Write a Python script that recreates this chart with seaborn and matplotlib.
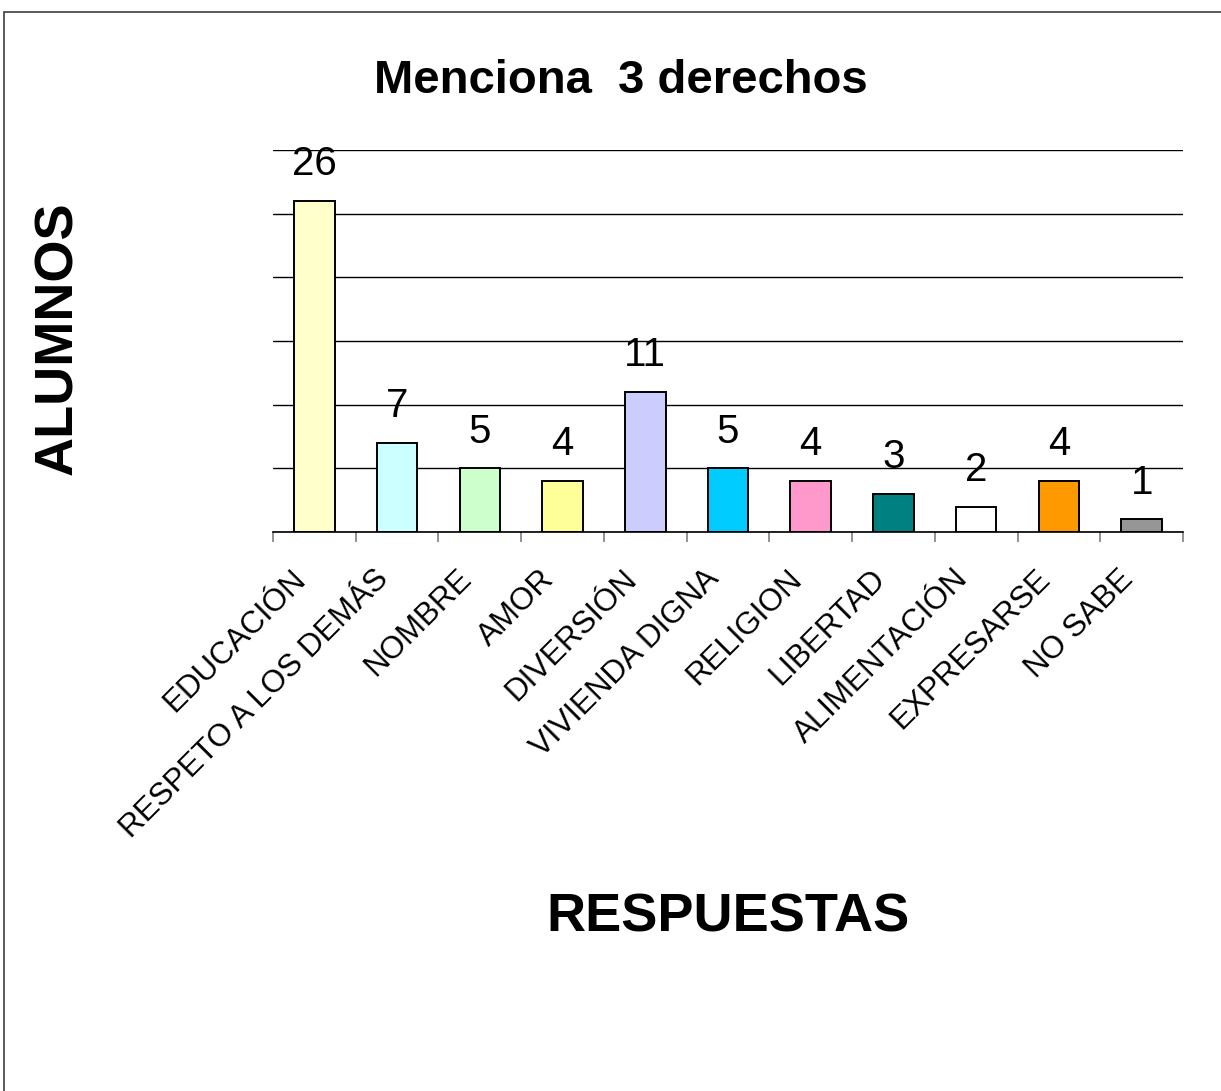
import matplotlib
matplotlib.use("Agg")
import matplotlib.pyplot as plt
import matplotlib.transforms as mtransforms
import seaborn as sns
import pandas as pd
from matplotlib.patches import Rectangle
from matplotlib.ticker import FixedLocator

# Data
respuestas = ["EDUCACIÓN", "RESPETO A LOS DEMÁS", "NOMBRE", "AMOR", "DIVERSIÓN",
              "VIVIENDA DIGNA", "RELIGION", "LIBERTAD", "ALIMENTACIÓN",
              "EXPRESARSE", "NO SABE"]
alumnos = [26, 7, 5, 4, 11, 5, 4, 3, 2, 4, 1]
colores = ["#FFFFCC", "#CCFFFF", "#CCFFCC", "#FFFF99", "#CCCCFF", "#00CCFF",
           "#FF99CC", "#008080", "#FFFFFF", "#FF9900", "#969696"]
y_ticks = [0, 5, 10, 15, 20, 25, 30]

df = pd.DataFrame({"respuesta": respuestas, "alumnos": alumnos})

sns.set_style("white")
plt.rcParams["font.family"] = ["Liberation Sans", "DejaVu Sans"]
plt.rcParams["text.color"] = "black"
plt.rcParams["xtick.color"] = "black"
plt.rcParams["xtick.labelcolor"] = "black"

W, H = 1221, 1091
fig = plt.figure(figsize=(W / 100, H / 100), dpi=100)
ax = fig.add_axes([273 / W, 1 - 532 / H, (1183 - 273) / W, (532 - 150) / H])

sns.barplot(
    data=df, x="respuesta", y="alumnos", hue="respuesta",
    palette=colores, legend=False, width=0.49,
    edgecolor="black", linewidth=1.4, saturation=1, ax=ax
)

# value labels
for i, v in enumerate(alumnos):
    ax.annotate(str(v), (i, v), xytext=(0, 18.5), textcoords="offset points",
                ha="center", va="baseline", fontsize=29, color="black")

ax.set_xlim(-0.5, len(respuestas) - 0.5)
ax.set_ylim(0, 30)
ax.set_yticks(y_ticks)
ax.set_yticklabels([])
ax.tick_params(axis="y", length=0)
ax.yaxis.grid(True, color="black", linewidth=1.0)
ax.set_axisbelow(True)

for s in ["left", "right", "top"]:
    ax.spines[s].set_visible(False)
ax.spines["bottom"].set_color("black")
ax.spines["bottom"].set_linewidth(1.2)

# category boundary ticks
ax.xaxis.set_minor_locator(FixedLocator([k - 0.5 for k in range(len(respuestas) + 1)]))
ax.tick_params(axis="x", which="minor", length=7, width=1.2, color="#808080",
               direction="out", bottom=True)
ax.tick_params(axis="x", which="major", length=0, pad=40)
ax.set_xticks(range(len(respuestas)))
ax.set_xticklabels(respuestas, rotation=45, ha="right", va="center",
                   rotation_mode="anchor", fontsize=22.5, color="black")
shift = mtransforms.ScaledTranslation(-0.13, 0.13, fig.dpi_scale_trans)
for lbl in ax.get_xticklabels():
    lbl.set_transform(lbl.get_transform() + shift)
ax.set_xlabel("")
ax.set_ylabel("")

# titles
fig.text(621 / W, 1 - 93 / H, "Menciona  3 derechos", ha="center", va="baseline",
         fontsize=34, fontweight="bold", color="black")
fig.text(728 / W, 1 - 932 / H, "RESPUESTAS", ha="center", va="baseline",
         fontsize=39, fontweight="bold", color="black")
fig.text(72 / W, 1 - 338 / H, "ALUMNOS", ha="center", va="baseline",
         rotation=90, rotation_mode="anchor", fontsize=39, fontweight="bold",
         color="black")

# chart area border
fig.patches.append(Rectangle((4 / W, -0.1), 1.2, 1.1 - 12 / H, transform=fig.transFigure,
                             fill=False, edgecolor="#404040", linewidth=1.2))

fig.savefig("out.png", dpi=100)
